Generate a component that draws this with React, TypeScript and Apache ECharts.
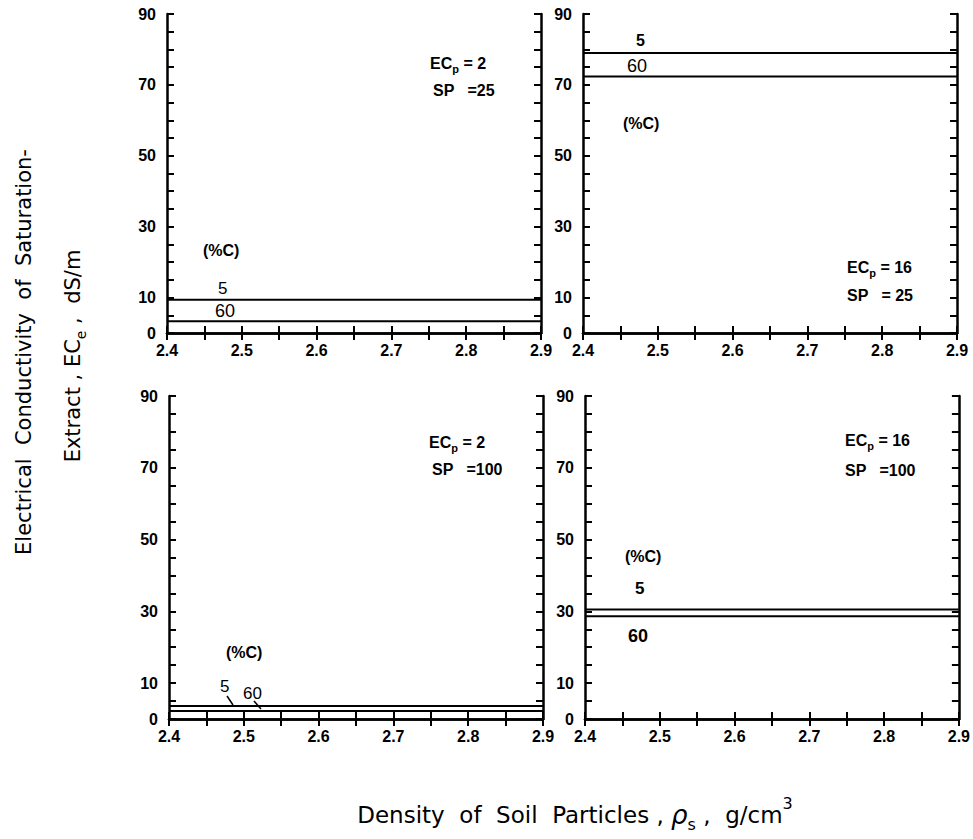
import React, { useEffect, useRef } from "react";
import * as echarts from "echarts";

// ---- data ----
const density = [2.4, 2.9];
const ecpValues = [2, 16, 2, 16];
const spValues = [25, 25, 100, 100];
const ece5 = [9.4, 79.0, 3.6, 30.5]; // 5 %C
const ece60 = [3.3, 72.4, 2.2, 28.6]; // 60 %C
const yTickLabels = [0, 10, 30, 50, 70, 90];
const xTickLabels = ["2.4", "2.5", "2.6", "2.7", "2.8", "2.9"];

const FONT = "'Liberation Sans', Arial, sans-serif";
const TFONT = "'DejaVu Sans', sans-serif";

const grids = [
  { left: 167, top: 14, width: 374, height: 319 },
  { left: 583, top: 14, width: 374, height: 319 },
  { left: 169, top: 396, width: 374, height: 323 },
  { left: 585, top: 396, width: 374, height: 323 },
];

let _ctx: CanvasRenderingContext2D | null = null;
function tw(s: string, fs: number, weight = "normal", style = "normal", family = FONT) {
  if (!_ctx) _ctx = document.createElement("canvas").getContext("2d");
  if (!_ctx) return s.length * fs * 0.55;
  _ctx.font = `${style} ${weight} ${fs}px ${family}`;
  return _ctx.measureText(s).width;
}

type Part = { t: string; fs: number; dy?: number; weight?: string; style?: string; family?: string };
function runs(parts: Part[], x: number, y: number, align: "left" | "center" = "left") {
  const widths = parts.map((p) =>
    tw(p.t, p.fs, p.weight || "normal", p.style || "normal", p.family || FONT)
  );
  const total = widths.reduce((a, b) => a + b, 0);
  let cx = align === "center" ? x - total / 2 : x;
  const out: any[] = [];
  parts.forEach((p, i) => {
    out.push({
      type: "text",
      x: cx,
      y: y + (p.dy || 0),
      silent: true,
      style: {
        text: p.t,
        fontSize: p.fs,
        fontFamily: p.family || FONT,
        fontWeight: p.weight || "normal",
        fontStyle: p.style || "normal",
        fill: "#000",
        align: "left",
        verticalAlign: "middle",
      },
    });
    cx += widths[i];
  });
  return out;
}

function label(t: string, x: number, y: number, fs = 16, weight = "bold") {
  return runs([{ t, fs, weight }], x, y);
}

function ecLabel(x: number, y: number, val: number) {
  return runs(
    [
      { t: "EC", fs: 16, weight: "bold" },
      { t: "p", fs: 11, dy: 6, weight: "bold" },
      { t: " = " + val, fs: 16, weight: "bold" },
    ],
    x,
    y
  );
}

export default function App() {
  const ref = useRef<HTMLDivElement>(null);
  useEffect(() => {
    if (!ref.current) return;
    const chart = echarts.init(ref.current, null, { renderer: "svg" });

    const axisLine = { show: true, lineStyle: { color: "#000", width: 2.5 } };
    const tick = { show: true, inside: true, length: 7, lineStyle: { color: "#000", width: 2 } };

    const xAxes: any[] = [];
    const yAxes: any[] = [];
    const series: any[] = [];
    grids.forEach((_, i) => {
      const xBase = {
        type: "value",
        gridIndex: i,
        min: 2.4,
        max: 2.9,
        interval: 0.05,
        axisLine,
        axisTick: tick,
        splitLine: { show: false },
      };
      xAxes.push({
        ...xBase,
        position: "bottom",
        axisLabel: {
          show: true,
          margin: 9,
          fontSize: 16,
          fontWeight: "bold",
          fontFamily: FONT,
          color: "#000",
          formatter: (v: number) => {
            const s = (Math.round(v * 100) / 100).toFixed(2);
            return s.endsWith("0") ? xTickLabels.find((t) => t === s.slice(0, 3)) || "" : "";
          },
        },
      });
      xAxes.push({ ...xBase, position: "top", axisLabel: { show: false } });

      const yBase = {
        type: "value",
        gridIndex: i,
        min: 0,
        max: 90,
        interval: 5,
        axisLine,
        axisTick: tick,
        splitLine: { show: false },
      };
      yAxes.push({
        ...yBase,
        position: "left",
        axisLabel: {
          show: true,
          margin: 11,
          fontSize: 16,
          fontWeight: "bold",
          fontFamily: FONT,
          color: "#000",
          formatter: (v: number) => (yTickLabels.includes(Math.round(v)) ? String(Math.round(v)) : ""),
        },
      });
      yAxes.push({ ...yBase, position: "right", axisLabel: { show: false } });

      [ece5, ece60].forEach((arr) => {
        series.push({
          type: "line",
          xAxisIndex: i * 2,
          yAxisIndex: i * 2,
          data: density.map((d) => [d, arr[i]]),
          showSymbol: false,
          silent: true,
          lineStyle: { color: "#000", width: 2 },
        });
      });
    });

    const graphic: any[] = [
      // panel 1
      ...ecLabel(430, 63, ecpValues[0]),
      ...label("SP   =" + spValues[0], 433, 90),
      ...label("(%C)", 203, 250, 16),
      ...label("5", 218, 288, 17, "normal"),
      ...label("60", 215, 311, 18, "normal"),
      // panel 2
      ...label("5", 636, 40, 16),
      ...label("60", 627, 66, 18, "normal"),
      ...label("(%C)", 623, 123, 16),
      ...ecLabel(847, 267, ecpValues[1]),
      ...label("SP   = " + spValues[1], 847, 295),
      // panel 3
      ...ecLabel(429, 442, ecpValues[2]),
      ...label("SP   =" + spValues[2], 432, 469),
      ...label("(%C)", 226, 652, 16),
      ...label("5", 220, 686, 17, "normal"),
      ...label("60", 243, 693, 17, "normal"),
      { type: "line", silent: true, shape: { x1: 227, y1: 696, x2: 233, y2: 705 }, style: { stroke: "#000", lineWidth: 1.5 } },
      { type: "line", silent: true, shape: { x1: 254, y1: 701, x2: 261, y2: 709 }, style: { stroke: "#000", lineWidth: 1.5 } },
      // panel 4
      ...ecLabel(845, 440, ecpValues[3]),
      ...label("SP   =" + spValues[3], 845, 470),
      ...label("(%C)", 625, 556, 16),
      ...label("5", 635, 588, 17),
      ...label("60", 628, 636, 18),
      // y-axis title (rotated)
      {
        type: "group",
        x: 24,
        y: 352,
        rotation: Math.PI / 2,
        children: runs(
          [{ t: "Electrical  Conductivity  of  Saturation-", fs: 21, family: TFONT }],
          0,
          0,
          "center"
        ),
      },
      {
        type: "group",
        x: 73,
        y: 356,
        rotation: Math.PI / 2,
        children: runs(
          [
            { t: "Extract , EC", fs: 21, family: TFONT },
            { t: "e", fs: 14, dy: 8, family: TFONT },
            { t: " ,  dS/m", fs: 21, family: TFONT },
          ],
          0,
          0,
          "center"
        ),
      },
      // x-axis title
      ...runs(
        [
          { t: "Density  of  Soil  Particles , ", fs: 23, family: TFONT },
          { t: "ρ", fs: 26, style: "italic", family: TFONT },
          { t: "s", fs: 16, dy: 9, family: TFONT },
          { t: " ,  g/cm", fs: 23, family: TFONT },
          { t: "3", fs: 16, dy: -12, family: TFONT },
        ],
        575,
        815,
        "center"
      ),
    ];

    chart.setOption({
      animation: false,
      backgroundColor: "#fff",
      grid: grids,
      xAxis: xAxes,
      yAxis: yAxes,
      series,
      graphic,
    });
    return () => chart.dispose();
  }, []);
  return (
    <div
      ref={ref}
      style={{ position: "fixed", left: 0, top: 0, width: 973, height: 839, background: "#fff" }}
    />
  );
}
